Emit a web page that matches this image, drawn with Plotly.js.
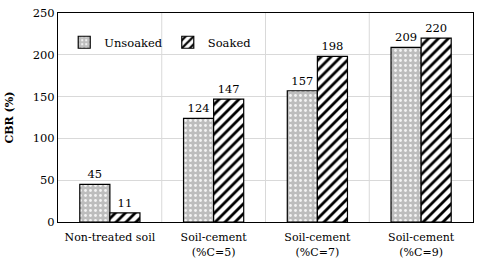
<!DOCTYPE html>
<html><head><meta charset="utf-8">
<script src="https://cdn.plot.ly/plotly-3.0.1.min.js"></script>
<style>body{margin:0}#c{width:480px;height:267px}</style>
</head><body><div id="c"></div>
<script>
const categories = ["Non-treated soil", "Soil-cement<br>(%C=5)", "Soil-cement<br>(%C=7)", "Soil-cement<br>(%C=9)"];
const unsoaked = [45, 124, 157, 209];
const soaked = [11, 147, 198, 220];
const yTicks = [0, 50, 100, 150, 200, 250];
const font = "DejaVu Serif";
const traces = [
  {type:"bar", name:"Unsoaked", x:categories, y:unsoaked, text:unsoaked.map(String), textposition:"outside",
   cliponaxis:false, textfont:{family:font,size:11.5,color:"#000"},
   marker:{color:"#bdbdbd", line:{color:"#000",width:1.2}, pattern:{shape:".", bgcolor:"#bdbdbd", fgcolor:"#f4f4f4", size:5, solidity:0.25}}},
  {type:"bar", name:"Soaked", x:categories, y:soaked, text:soaked.map(String), textposition:"outside",
   cliponaxis:false, textfont:{family:font,size:11.5,color:"#000"},
   marker:{color:"#fff", line:{color:"#000",width:1.2}, pattern:{shape:"/", bgcolor:"#fff", fgcolor:"#000", size:7, solidity:0.4}}}
];
const layout = {
  width:480, height:267, margin:{l:58, r:7, t:13, b:45},
  paper_bgcolor:"#fff", plot_bgcolor:"#fff",
  font:{family:font, size:11, color:"#000"},
  barmode:"group", bargap:0.42, bargroupgap:0,
  showlegend:true,
  legend:{orientation:"h", x:0.015, y:0.86, xanchor:"left", yanchor:"middle", bgcolor:"rgba(0,0,0,0)", font:{family:font,size:11.5}, itemwidth:30, tracegroupgap:0},
  xaxis:{showline:true, linecolor:"#000", linewidth:1, mirror:true, showgrid:false, ticks:"", ticklabelstandoff:5, tickfont:{family:font,size:11}},
  yaxis:{range:[0,250], tickvals:yTicks, showline:true, linecolor:"#000", linewidth:1, mirror:true,
    showgrid:true, gridcolor:"#d9d9d9", gridwidth:1, zeroline:false, ticks:"", tickfont:{family:font,size:11.5},
    title:{text:"<b>CBR (%)</b>", font:{family:font,size:11}, standoff:16}},
  shapes:[1.5,2.5,3.5].map(v=>({type:"line", xref:"x", yref:"paper", x0:v-1, x1:v-1, y0:0, y1:1, line:{color:"#d9d9d9", width:1}, layer:"below"}))
};
Plotly.newPlot("c", traces, layout, {staticPlot:true});
</script></body></html>
